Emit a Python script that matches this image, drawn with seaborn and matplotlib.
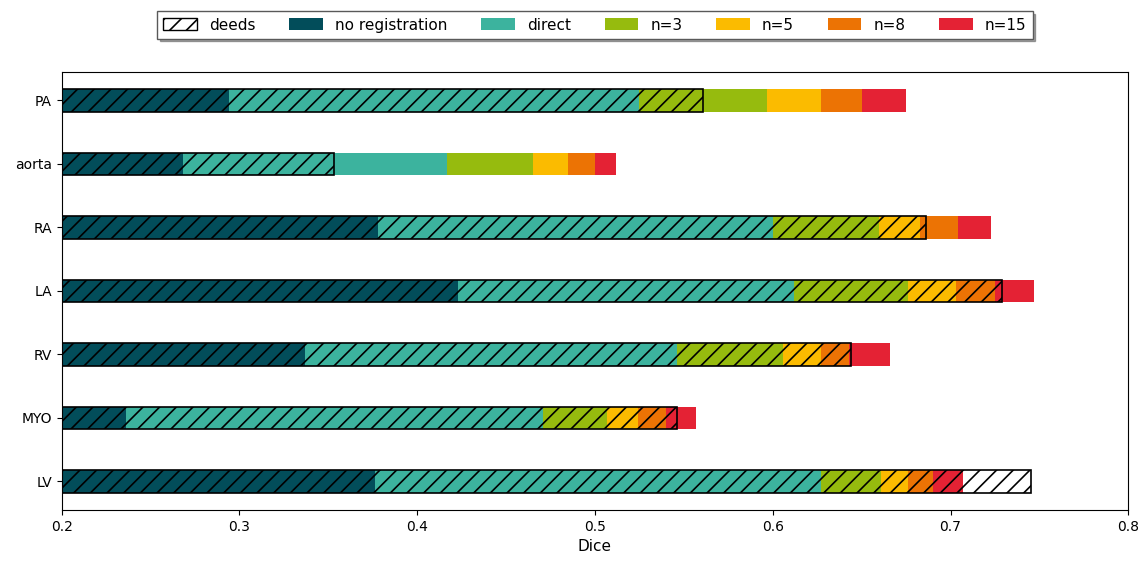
import matplotlib
matplotlib.use("Agg")
import matplotlib.pyplot as plt
from matplotlib.patches import Patch
import seaborn as sns
import pandas as pd

structures = ["PA", "aorta", "RA", "LA", "RV", "MYO", "LV"]
no_registration = [0.294, 0.268, 0.378, 0.423, 0.337, 0.236, 0.376]
direct = [0.525, 0.417, 0.600, 0.612, 0.546, 0.471, 0.627]
n3 = [0.597, 0.465, 0.660, 0.676, 0.606, 0.507, 0.661]
n5 = [0.627, 0.485, 0.683, 0.703, 0.627, 0.524, 0.676]
n8 = [0.650, 0.500, 0.704, 0.725, 0.643, 0.540, 0.690]
n15 = [0.675, 0.512, 0.723, 0.747, 0.666, 0.557, 0.707]
deeds = [0.561, 0.353, 0.686, 0.729, 0.644, 0.546, 0.745]

series_names = ["no registration", "direct", "n=3", "n=5", "n=8", "n=15"]
series_colors = ["#024d5a", "#3cb39e", "#96bb0e", "#fbbb00", "#ec7304", "#e42234"]

plt.rcParams["hatch.linewidth"] = 1.2
fig, ax = plt.subplots(figsize=(11.42, 5.66), dpi=100)
fig.subplots_adjust(left=0.054, right=0.988, top=0.873, bottom=0.099)

bar_w = 0.35
draw_order = [("n=15", n15), ("n=8", n8), ("n=5", n5), ("n=3", n3),
              ("direct", direct), ("no registration", no_registration)]
color_map = dict(zip(series_names, series_colors))
for name, vals in draw_order:
    df = pd.DataFrame({"structure": structures, "dice": vals})
    sns.barplot(data=df, x="dice", y="structure", order=structures, orient="h",
                color=color_map[name], saturation=1, width=bar_w, errorbar=None,
                linewidth=0, ax=ax)

n_before = len(ax.patches)
df = pd.DataFrame({"structure": structures, "dice": deeds})
sns.barplot(data=df, x="dice", y="structure", order=structures, orient="h",
            color="black", saturation=1, width=bar_w, errorbar=None, ax=ax)
for p in ax.patches[n_before:]:
    p.set_facecolor("none")
    p.set_edgecolor("black")
    p.set_linewidth(1.2)
    p.set_hatch("//")

ax.set_xlim(0.2, 0.8)
ax.set_ylim(6.45, -0.45)
ax.set_xlabel("Dice", fontsize=11)
ax.set_ylabel("")
ax.tick_params(labelsize=10)

handles = [Patch(facecolor="white", edgecolor="black", hatch="//", label="deeds")]
handles += [Patch(facecolor=c, edgecolor="none", label=n) for n, c in zip(series_names, series_colors)]
leg = ax.legend(handles=handles, loc="center", bbox_to_anchor=(0.5, 1.107), ncol=7,
                fontsize=11, frameon=True, fancybox=False, shadow=True,
                columnspacing=2.2, handlelength=2.2, handleheight=0.8,
                handletextpad=0.8, borderpad=0.4)
leg.get_frame().set_edgecolor("0.35")

fig.savefig("out.png", dpi=100)
